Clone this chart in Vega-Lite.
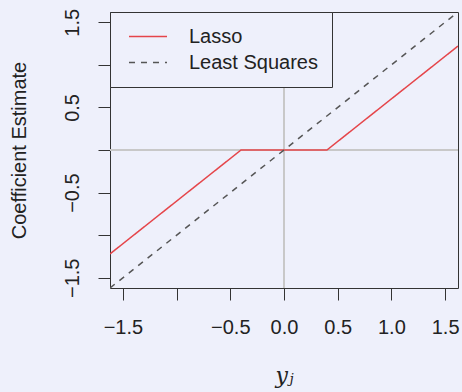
{
  "$schema": "https://vega.github.io/schema/vega-lite/v6.json",
  "width": 348,
  "height": 276,
  "autosize": {"type": "none"},
  "padding": {"left": 110, "top": 12, "right": 4, "bottom": 104},
  "background": "#eef0fb",
  "config": {
    "view": {"stroke": "#333333", "strokeWidth": 1},
    "font": "Liberation Sans",
    "axis": {
      "domain": false, "grid": false, "tickColor": "#333333", "tickSize": 12, "tickWidth": 1,
      "labelFont": "Liberation Sans", "labelFontSize": 20, "labelColor": "#222222",
      "labelFlush": false, "labelOverlap": false,
      "titleFont": "Liberation Sans", "titleFontSize": 20, "titleFontWeight": "normal", "titleColor": "#222222"
    },
    "legend": {
      "orient": "none", "legendX": 0, "legendY": 0, "title": null,
      "strokeColor": "#333333", "fillColor": "#eef0fb", "padding": 14,
      "symbolType": "M-0.58,0H3.42", "symbolSize": 361, "symbolStrokeWidth": 1.5,
      "labelFont": "Liberation Sans", "labelFontSize": 20, "labelColor": "#222222", "labelOffset": 44, "rowPadding": 5
    }
  },
  "layer": [
    {
      "data": {"values": [{"x": 0}]},
      "mark": {"type": "rule", "color": "#c8c8c8", "strokeWidth": 2},
      "encoding": {
        "x": {
          "field": "x", "type": "quantitative",
          "scale": {"domain": [-1.62, 1.62], "nice": false, "zero": false},
          "axis": {
            "title": "yⱼ", "titleFont": "DejaVu Serif", "titleFontStyle": "italic", "titleFontSize": 22, "titlePadding": 28,
            "values": [-1.5, -1, -0.5, 0, 0.5, 1, 1.5],
            "labelPadding": 17,
            "labelExpr": "datum.value == -1 ? '' : replace(format(datum.value, '.1f'), '-', '−')"
          }
        }
      }
    },
    {
      "data": {"values": [{"y": 0}]},
      "mark": {"type": "rule", "color": "#c8c8c8", "strokeWidth": 2},
      "encoding": {
        "y": {
          "field": "y", "type": "quantitative",
          "scale": {"domain": [-1.62, 1.62], "nice": false, "zero": false},
          "axis": {
            "title": "Coefficient Estimate", "titlePadding": 33,
            "values": [-1.5, -1, -0.5, 0, 0.5, 1, 1.5],
            "labelAngle": -90, "labelAlign": "center", "labelBaseline": "bottom", "labelPadding": 16,
            "labelExpr": "indexof([-1.5, -0.5, 0.5, 1.5], datum.value) >= 0 ? replace(format(datum.value, '.1f'), '-', '−') : ''"
          }
        }
      }
    },
    {
      "data": {"values": [
        {"series": "Lasso", "x": -1.62, "y": -1.22},
        {"series": "Lasso", "x": -0.4, "y": 0},
        {"series": "Lasso", "x": 0.4, "y": 0},
        {"series": "Lasso", "x": 1.62, "y": 1.22},
        {"series": "Least Squares", "x": -1.62, "y": -1.62},
        {"series": "Least Squares", "x": 1.62, "y": 1.62}
      ]},
      "mark": {"type": "line", "strokeWidth": 1.5, "clip": true},
      "encoding": {
        "x": {
          "field": "x", "type": "quantitative",
          "scale": {"domain": [-1.62, 1.62], "nice": false, "zero": false},
          "axis": {
            "title": "yⱼ", "titleFont": "DejaVu Serif", "titleFontStyle": "italic", "titleFontSize": 22, "titlePadding": 28,
            "values": [-1.5, -1, -0.5, 0, 0.5, 1, 1.5],
            "labelPadding": 17,
            "labelExpr": "datum.value == -1 ? '' : replace(format(datum.value, '.1f'), '-', '−')"
          }
        },
        "y": {
          "field": "y", "type": "quantitative",
          "scale": {"domain": [-1.62, 1.62], "nice": false, "zero": false},
          "axis": {
            "title": "Coefficient Estimate", "titlePadding": 33,
            "values": [-1.5, -1, -0.5, 0, 0.5, 1, 1.5],
            "labelAngle": -90, "labelAlign": "center", "labelBaseline": "bottom", "labelPadding": 16,
            "labelExpr": "indexof([-1.5, -0.5, 0.5, 1.5], datum.value) >= 0 ? replace(format(datum.value, '.1f'), '-', '−') : ''"
          }
        },
        "color": {
          "field": "series", "type": "nominal",
          "scale": {"domain": ["Lasso", "Least Squares"], "range": ["#e5454a", "#555555"]}
        },
        "strokeDash": {
          "field": "series", "type": "nominal",
          "scale": {"domain": ["Lasso", "Least Squares"], "range": [[1, 0], [6, 6]]}
        }
      }
    }
  ]
}
